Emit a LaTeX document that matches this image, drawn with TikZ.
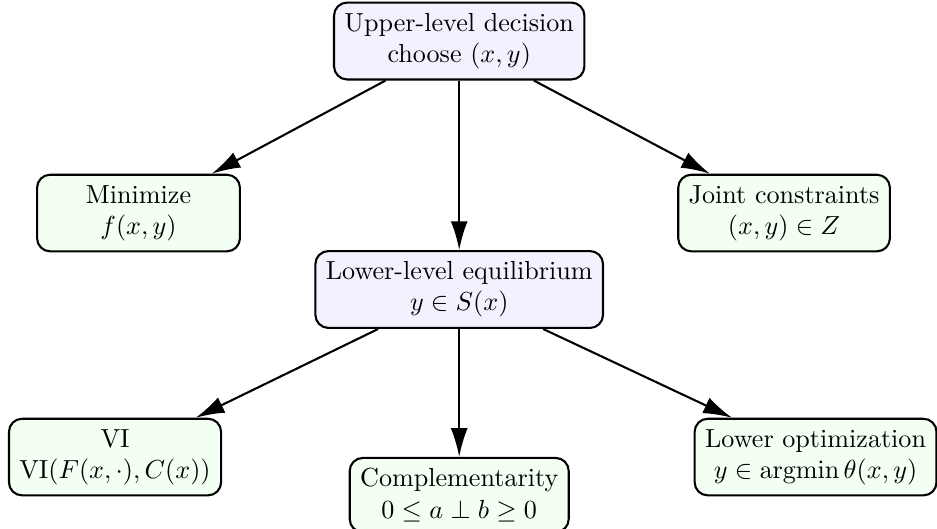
\documentclass[tikz,border=0pt]{standalone}
\usepackage{amsmath}
\usepackage{amssymb}
\usetikzlibrary{calc,arrows.meta}
\tikzset{
	level/.style={rectangle,draw,rounded corners=5pt,thick,fill=blue!5,align=center,inner sep=4pt,font=\normalsize},
	leaf/.style={rectangle,draw,rounded corners=5pt,thick,fill=green!5,align=center,inner sep=4pt,minimum width=2.73cm,font=\normalsize},
	directed/.style={thick,arrows={-Latex[length=11pt,width=6.5pt]}}
	}
\begin{document}
\begin{tikzpicture}
		\useasboundingbox (0,0) rectangle (12.61,-7.106);
		\node[level] (up) at (6.18,-0.552) {Upper-level decision\\choose $(x,y)$};
		\node[leaf] (obj) at (1.864,-2.867) {Minimize\\$f(x,y)$};
		\node[leaf] (joint) at (10.552,-2.867) {Joint constraints\\$(x,y)\in Z$};
		\node[level] (low) at (6.18,-3.896) {Lower-level equilibrium\\$y\in S(x)$};
		\node[leaf] (vi) at (1.548,-6.151) {VI\\$\mathrm{VI}(F(x,\cdot),C(x))$};
		\node[leaf] (cp) at (6.18,-6.662) {Complementarity\\$0\le a\perp b\ge 0$};
		\node[leaf] (opt) at (10.976,-6.151) {Lower optimization\\$y\in\operatorname{argmin}\theta(x,y)$};
	
		\draw[directed] (up) to (obj);
		\draw[directed] (up) to (low);
		\draw[directed] (up) to (joint);
		\draw[directed] (low) to (vi);
		\draw[directed] (low) to (cp);
		\draw[directed] (low) to (opt);
	\end{tikzpicture}
\end{document}
